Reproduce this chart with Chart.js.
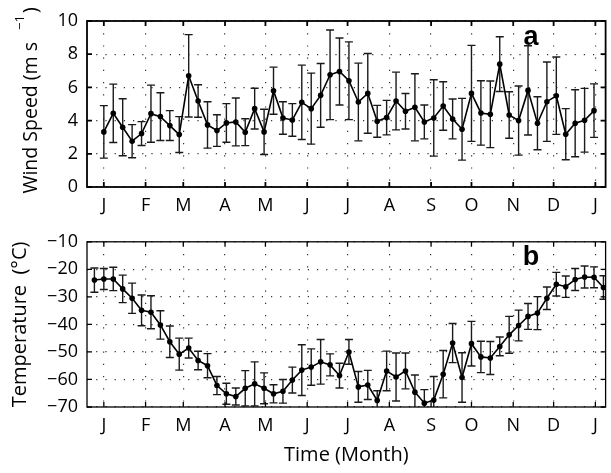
<!DOCTYPE html>
<html><head><meta charset="utf-8">
<script src="https://cdn.jsdelivr.net/npm/chart.js@4.4.0/dist/chart.umd.min.js"></script>
<style>
html,body{margin:0;padding:0;background:#fff;}
#wrap{position:relative;width:611px;height:473px;overflow:hidden;}
canvas{position:absolute;left:0;}
</style></head><body>
<div id="wrap">
<canvas id="c1" width="611" height="222" style="top:0px"></canvas>
<canvas id="c2" width="611" height="251" style="top:222px"></canvas>
</div>
<script>
// ---- data ----
const monthTicks  = [1, 32, 60, 91, 121, 152, 182, 213, 244, 274, 305, 335, 366];
const monthLabels = ['J','F','M','A','M','J','J','A','S','O','N','D','J'];

const windDays = [1,8,15,22,29,36,43,50,57,64,71,78,85,92,99,106,113,120,127,134,141,148,155,162,169,176,183,190,197,204,211,218,225,232,239,246,253,260,267,274,281,288,295,302,309,316,323,330,337,344,351,358,365];
const windSpeed = [3.32,4.44,3.60,2.76,3.22,4.42,4.24,3.70,3.16,6.70,
                   5.18,3.74,3.40,3.86,3.92,3.30,4.72,3.32,5.80,4.16,
                   4.04,5.10,4.72,5.52,6.76,6.96,6.40,5.12,5.64,3.96,
                   4.18,5.18,4.56,4.80,3.92,4.16,4.88,4.10,3.48,5.64,
                   4.46,4.38,7.40,4.34,4.00,5.82,3.84,5.14,5.50,3.18,
                   3.84,4.02,4.60];
const windErr = [1.58,1.76,1.72,1.00,0.72,1.72,1.44,0.90,1.08,2.48,
                 0.98,1.40,0.95,1.16,1.44,0.81,1.23,1.36,1.42,0.98,
                 0.98,2.24,2.14,1.92,2.70,2.02,2.34,2.34,2.40,0.96,
                 1.04,1.74,1.07,2.02,1.02,2.30,1.46,1.20,1.86,2.89,
                 1.94,2.01,1.65,1.40,2.08,2.69,1.60,2.39,2.33,1.54,
                 2.02,1.92,1.61];

const tempDays = [-6,1,8,15,22,29,36,43,50,57,64,71,78,85,92,99,106,113,120,127,134,141,148,155,162,169,176,183,190,197,204,211,218,225,232,239,246,253,260,267,274,281,288,295,302,309,316,323,330,337,344,351,358,365,372];
const temperature = [-23.9,-23.5,-23.5,-27.1,-30.5,-34.9,-35.6,-40.2,-46.3,-50.8,
                     -48.6,-53.1,-55.0,-62.2,-65.2,-66.2,-63.2,-61.6,-63.2,-65.2,
                     -64.3,-60.2,-56.6,-55.5,-53.6,-54.7,-58.6,-50.0,-62.7,-62.0,
                     -67.6,-56.9,-59.1,-56.9,-64.6,-68.6,-67.5,-58.1,-46.8,-59.3,
                     -47.0,-51.8,-52.2,-48.0,-43.8,-40.4,-37.1,-35.9,-30.5,-25.4,
                     -26.3,-23.7,-22.8,-22.9,-26.6];
const tempErr = [4.4,3.8,4.25,5.0,5.5,5.6,6.0,5.15,5.7,5.8,
                 3.6,3.35,4.4,3.3,3.8,3.1,6.4,8.0,5.6,3.3,
                 4.3,4.7,9.2,6.6,8.1,4.0,4.5,4.5,5.6,5.3,
                 3.5,7.2,8.7,6.5,6.2,4.9,8.6,8.6,7.1,9.0,
                 8.1,5.7,6.0,3.4,6.7,5.6,4.7,6.0,4.1,4.3,
                 3.9,4.0,4.0,3.8,4.25];

const windTicks = [0, 2, 4, 6, 8, 10];
const tempTicks = [-70, -60, -50, -40, -30, -20, -10];

// ---- helpers ----
const FONT = "'Open Sans', 'Liberation Sans', sans-serif";
Chart.defaults.font.family = FONT;
Chart.defaults.font.size = 18;
Chart.defaults.color = '#000';

function buildDatasets(days, vals, errs) {
  const main = days.map((d, i) => ({x: d, y: vals[i]}));
  const stems = [], caps = [];
  days.forEach((d, i) => {
    stems.push({x: d, y: vals[i] - errs[i]}, {x: d, y: vals[i] + errs[i]}, {x: d, y: null});
    caps.push({x: d, y: vals[i] - errs[i]}, {x: d, y: vals[i] + errs[i]});
  });
  return [
    {data: main, borderColor: '#000', borderWidth: 1.6, pointRadius: 2.8,
     pointBackgroundColor: '#000', pointBorderWidth: 0, tension: 0, clip: 0},
    {data: stems, borderColor: '#1a1a1a', borderWidth: 1.4, pointRadius: 0,
     spanGaps: false, tension: 0, clip: 0},
    {data: caps, showLine: false, pointStyle: 'line', pointRadius: 4,
     pointBorderWidth: 1.4, pointBorderColor: '#1a1a1a', borderColor: '#1a1a1a', clip: 0}
  ];
}

function fmt(v) { return v < 0 ? '\u2212' + Math.abs(v) : String(v); }

function drawFrame(chart, lw) {
  const {ctx, chartArea: a, scales: {x, y}} = chart;
  ctx.save();
  ctx.strokeStyle = '#000';
  ctx.lineWidth = lw;
  ctx.beginPath();
  x.ticks.forEach(t => {
    const px = x.getPixelForValue(t.value);
    ctx.moveTo(px, a.bottom); ctx.lineTo(px, a.bottom - 5);
    ctx.moveTo(px, a.top); ctx.lineTo(px, a.top + 5);
  });
  y.ticks.forEach(t => {
    const py = y.getPixelForValue(t.value);
    ctx.moveTo(a.left, py); ctx.lineTo(a.left + 5, py);
    ctx.moveTo(a.right, py); ctx.lineTo(a.right - 5, py);
  });
  ctx.stroke();
  ctx.strokeRect(a.left, a.top, a.width, a.height);
  ctx.restore();
}

function panelLetter(ctx, letter, x, y) {
  ctx.save();
  ctx.fillStyle = '#000';
  ctx.font = "bold 27px 'Liberation Sans', Arial, sans-serif";
  ctx.textAlign = 'center';
  ctx.textBaseline = 'alphabetic';
  ctx.fillText(letter, x, y);
  ctx.restore();
}

function makeOptions(yMin, yMax, yTicks, padTop, xHeight) {
  return {
    responsive: false, animation: false, devicePixelRatio: 1,
    layout: {padding: {top: padTop, right: 2, left: 0, bottom: 0}},
    plugins: {legend: {display: false}, tooltip: {enabled: false}},
    scales: {
      x: {
        type: 'linear', min: -11.5, max: 373.6,
        afterBuildTicks: s => { s.ticks = monthTicks.map(v => ({value: v})); },
        afterFit: s => { s.height = xHeight; },
        ticks: {callback: (v, i) => monthLabels[i], autoSkip: false, maxRotation: 0, padding: 8},
        grid: {color: '#333', lineWidth: 1.2, drawTicks: false},
        border: {display: false, dash: [1.2, 11]}
      },
      y: {
        type: 'linear', min: yMin, max: yMax,
        afterBuildTicks: s => { s.ticks = yTicks.map(v => ({value: v})); },
        afterFit: s => { s.width = 87; },
        ticks: {callback: v => fmt(v), padding: 9},
        grid: {color: '#333', lineWidth: 1.2, drawTicks: false},
        border: {display: false, dash: [1.2, 8]}
      }
    }
  };
}

// ---- chart a: wind speed ----
new Chart(document.getElementById('c1'), {
  type: 'line',
  data: {datasets: buildDatasets(windDays, windSpeed, windErr)},
  options: makeOptions(0, 10, windTicks, 21, 35),
  plugins: [{
    id: 'decorA',
    afterDraw(chart) {
      const ctx = chart.ctx;
      drawFrame(chart, 1.8);
      panelLetter(ctx, 'a', 531, 45);
      // y-axis title with superscript
      ctx.save();
      ctx.fillStyle = '#000';
      ctx.translate(37, 0);
      ctx.rotate(-Math.PI / 2);
      ctx.textBaseline = 'alphabetic';
      ctx.font = '19.5px ' + FONT;
      ctx.textAlign = 'right';
      ctx.fillText('Wind Speed (m s', -42, 0);
      ctx.textAlign = 'left';
      ctx.font = '13px ' + FONT;
      ctx.fillText('\u22121', -30, -13);
      ctx.font = '19.5px ' + FONT;
      ctx.fillText(')', -13, 0);
      ctx.restore();
    }
  }]
});

// ---- chart b: temperature ----
new Chart(document.getElementById('c2'), {
  type: 'line',
  data: {datasets: buildDatasets(tempDays, temperature, tempErr)},
  options: makeOptions(-70, -10, tempTicks, 18, 66),
  plugins: [{
    id: 'decorB',
    afterDraw(chart) {
      const ctx = chart.ctx;
      const a = chart.chartArea;
      drawFrame(chart, 1.3);
      panelLetter(ctx, 'b', 531, 43);
      ctx.save();
      ctx.fillStyle = '#000';
      ctx.font = '20px ' + FONT;
      ctx.textAlign = 'center';
      ctx.textBaseline = 'alphabetic';
      ctx.fillText('Time (Month)', (a.left + a.right) / 2, 239);
      ctx.translate(26, (a.top + a.bottom) / 2);
      ctx.rotate(-Math.PI / 2);
      ctx.fillText('Temperature  (\u00B0C)', 0, 0);
      ctx.restore();
    }
  }]
});
</script>
</body></html>
